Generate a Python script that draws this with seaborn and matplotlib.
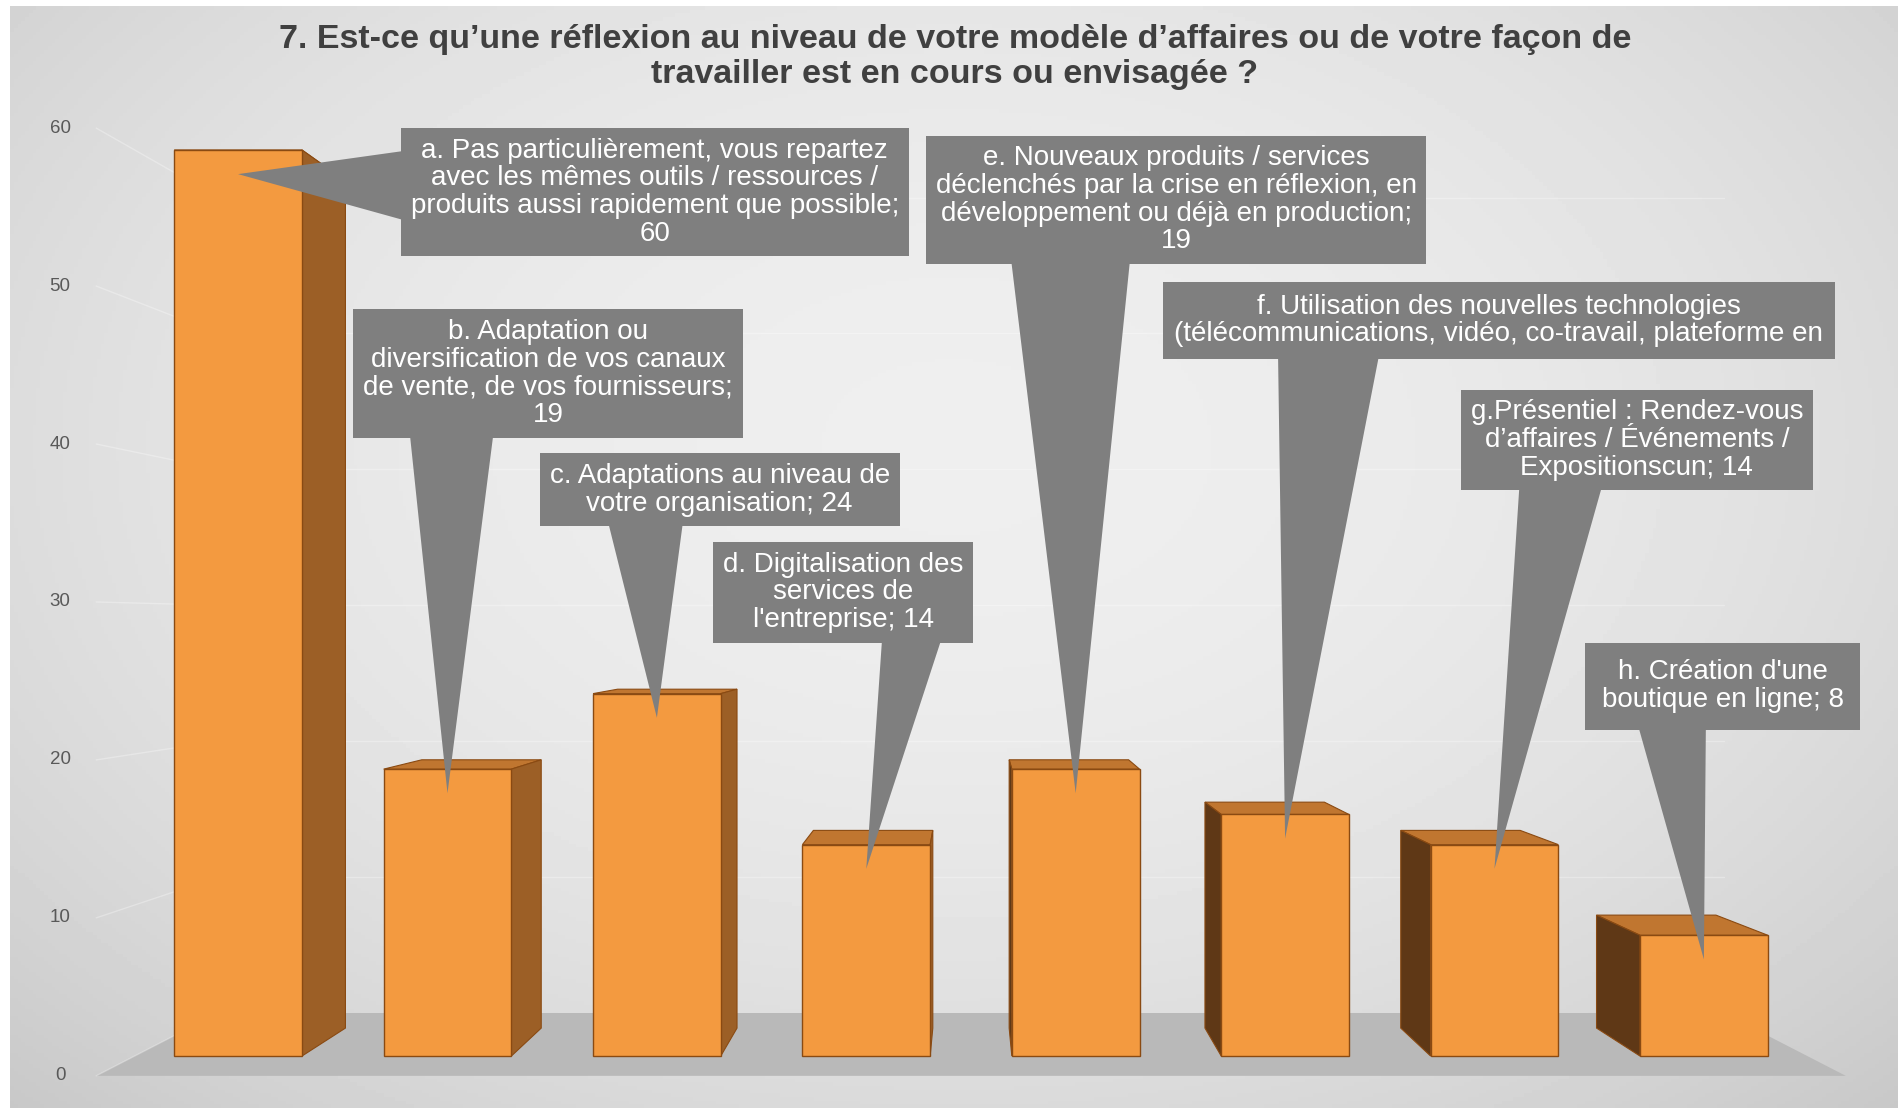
import numpy as np
import matplotlib
matplotlib.use('Agg')
import matplotlib.pyplot as plt
from matplotlib.patches import Polygon, Rectangle
import seaborn as sns

sns.set_style("white")
plt.rcParams['font.family'] = ['Liberation Sans', 'DejaVu Sans']

# ---- data ----
TITLE = ("7. Est-ce qu’une réflexion au niveau de votre modèle d’affaires ou de votre façon de\n"
         "travailler est en cours ou envisagée ?")
categories = ['a', 'b', 'c', 'd', 'e', 'f', 'g', 'h']
values = [60, 19, 24, 14, 19, 16, 14, 8]
callout_texts = [
    "a. Pas particulièrement, vous repartez\navec les mêmes outils / ressources /\nproduits aussi rapidement que possible;\n60",
    "b. Adaptation ou\ndiversification de vos canaux\nde vente, de vos fournisseurs;\n19",
    "c. Adaptations au niveau de\nvotre organisation; 24",
    "d. Digitalisation des\nservices de\nl'entreprise; 14",
    "e. Nouveaux produits / services\ndéclenchés par la crise en réflexion, en\ndéveloppement ou déjà en production;\n19",
    "f. Utilisation des nouvelles technologies\n(télécommunications, vidéo, co-travail, plateforme en",
    "g.Présentiel : Rendez-vous\nd’affaires / Événements /\nExpositionscun; 14",
    "h. Création d'une\nboutique en ligne; 8",
]
y_ticks = [0, 10, 20, 30, 40, 50, 60]

# ---- layout of the callout boxes (data coords) ----
callout_xy = [(1.99, 57.2), (1.48, 45.2), (2.30, 37.5), (2.89, 30.7),
              (4.48, 56.7), (6.02, 48.7), (6.68, 40.8), (7.09, 24.5)]
callout_relpos = [(0.04, 0.55), (0.24, 0.2), (0.28, 0.25), (0.8, 0.2),
                  (0.28, 0.2), (0.24, 0.25), (0.28, 0.2), (0.28, 0.2)]
callout_tail_px = [80, 90, 82, 64, 125, 105, 86, 74]
callout_pad = [0.35, 0.35, 0.35, 0.35, 0.35, 0.42, 0.35, 0.6]

# colours
FRONT = '#f39a40'
EDGE = '#8a4a12'
TOP = '#c07630'
SIDE_R = '#9c5f26'
SIDE_L = '#5f3816'
FLOOR = '#b9b9b9'
BOX = '#7f7f7f'

# perspective (data coords)
VX, VY = 3.5, 28.5
DEPTH = 0.935
FLOOR_FRONT = 1.046
WALL = 0.90


def proj(x, y, s):
    return VX + s * (x - VX), VY + s * (y - VY)


fig = plt.figure(figsize=(18.98, 11.08), dpi=100)
fig.patch.set_facecolor('white')

# background gradient
bg = fig.add_axes([10 / 1898, 0, 1888 / 1898, 1102 / 1108])
yy, xx = np.mgrid[0:1:300j, 0:1:500j]
r = np.sqrt(((xx - 0.5) / 0.75) ** 2 + ((yy - 0.4) / 0.85) ** 2)
img = np.clip(0.935 - 0.16 * r ** 2, 0, 1)
bg.imshow(img, cmap='gray', vmin=0, vmax=1, aspect='auto', extent=[0, 1, 0, 1])
bg.axis('off')

ax = fig.add_axes([0, 0, 1, 1])
ax.set_facecolor('none')

sns.barplot(x=categories, y=values, color=FRONT, saturation=1, width=0.61,
            edgecolor=EDGE, linewidth=1.0, ax=ax, zorder=3)

ax.set_xlim(-1.137, 7.927)
ax.set_ylim(-3.44, 69.93)
ax.axis('off')

# floor
n = len(categories)
fl, fr = -0.494, n - 1 + 0.494
floor_pts = [proj(fl, 0, FLOOR_FRONT), proj(fr, 0, FLOOR_FRONT),
             proj(fr, 0, WALL), proj(fl, 0, WALL)]
ax.add_patch(Polygon(floor_pts, closed=True, fc=FLOOR, ec='none', zorder=0.5))

# faint gridlines on back wall and left wall
for v in y_ticks[1:]:
    p0, p1 = proj(fl, v, WALL), proj(fr, v, WALL)
    ax.plot([p0[0], p1[0]], [p0[1], p1[1]], color='white', alpha=0.3, lw=1.0, zorder=0.6)
for v in y_ticks:
    p0, p1 = proj(fl, v, FLOOR_FRONT), proj(fl, v, WALL)
    ax.plot([p0[0], p1[0]], [p0[1], p1[1]], color='white', alpha=0.3, lw=1.0, zorder=0.6)

# tick labels on the front plane
for v in y_ticks:
    _, ty = proj(0, v, FLOOR_FRONT)
    ax.text(-0.85, ty, str(v), ha='center', va='center', fontsize=13.5, color='#595959')

# 3D faces of the bars
for bar in list(ax.patches):
    if not isinstance(bar, Rectangle):
        continue
    x0, w, h = bar.get_x(), bar.get_width(), bar.get_height()
    x1 = x0 + w
    cx = x0 + w / 2
    top = [(x0, h), (x1, h), proj(x1, h, DEPTH), proj(x0, h, DEPTH)]
    ax.add_patch(Polygon(top, closed=True, fc=TOP, ec=EDGE, lw=0.8, zorder=1.5))
    xe = x1 if cx < VX else x0
    side = [(xe, 0), (xe, h), proj(xe, h, DEPTH), proj(xe, 0, DEPTH)]
    ax.add_patch(Polygon(side, closed=True, fc=SIDE_R if cx < VX else SIDE_L,
                         ec=EDGE, lw=0.8, zorder=1.8))

# callouts
fs = 20
for i, (txt, v) in enumerate(zip(callout_texts, values)):
    tw = callout_tail_px[i] * 0.72 / fs
    ax.annotate(txt, xy=(i, v - 1.6), xytext=callout_xy[i], textcoords='data',
                ha='center', va='center', fontsize=fs, color='white', linespacing=1.08,
                bbox=dict(boxstyle=f'square,pad={callout_pad[i]}', fc=BOX, ec='none'),
                arrowprops=dict(arrowstyle=f'wedge,tail_width={tw:.2f},shrink_factor=0.5',
                                fc=BOX, ec='none', relpos=callout_relpos[i],
                                patchA=None, shrinkA=0, shrinkB=0),
                zorder=10)

fig.text(0.503, 0.9486, TITLE, ha='center', va='center', fontsize=24.5,
         fontweight='bold', color='#404040', linespacing=1.15)

fig.savefig('out.png', dpi=100)
